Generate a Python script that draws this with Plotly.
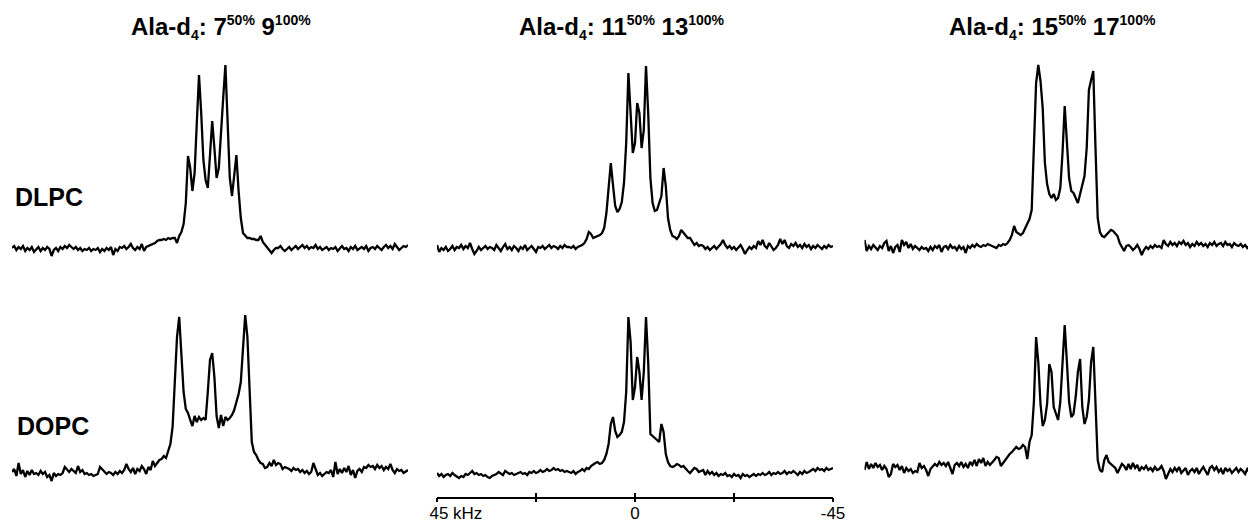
import numpy as np
import plotly.graph_objects as go

SS = "<span style='font-size:14px'>{}</span>"
panel_titles = [
    "Ala-d<sub>" + SS.format("4") + "</sub>: 7<sup>" + SS.format("50%") + "</sup> 9<sup>" + SS.format("100%") + "</sup>",
    "Ala-d<sub>" + SS.format("4") + "</sub>: 11<sup>" + SS.format("50%") + "</sup> 13<sup>" + SS.format("100%") + "</sup>",
    "Ala-d<sub>" + SS.format("4") + "</sub>: 15<sup>" + SS.format("50%") + "</sup> 17<sup>" + SS.format("100%") + "</sup>",
]
row_labels = ["DLPC", "DOPC"]

dlpc_7_9 = [
    0, 2, -2, 1, -1, 2, -3, 0, -2, 1,
    -4, -1, 1, -3, 0, -2, 1, -1, -8, -2,
    0, -3, 1, -1, 2, 0, 3, 1, -1, 1,
    -2, 0, -3, -1, -2, 0, -3, -1, -2, 0,
    -4, -1, -3, 0, -2, 1, -7, -1, -3, 1,
    0, 2, -1, 1, 4, 0, -2, 1, -1, 4,
    -3, 1, 2, 3, 4, 5, 7, 8, 8, 9,
    8, 10, 9, 10, 10, 5, 12, 16, 24, 45,
    92, 80, 57, 75, 125, 173, 135, 88, 68, 60,
    93, 127, 100, 70, 80, 110, 150, 183, 128, 70,
    52, 75, 93, 57, 30, 15, 12, 10, 10, 9,
    9, 8, 8, 12, 6, 3, 0, -3, -5, -2,
    0, 0, 2, -1, -3, -1, 1, -2, 0, 2,
    -1, 1, 3, 0, 2, -1, 1, 0, 3, -1,
    1, -2, 0, 1, -2, 0, -1, 1, -3, 0,
    2, -1, 0, -3, 1, -1, 2, -2, 0, 1,
    -1, 2, -3, 0, 1, -1, 2, 0, -2, 1,
    3, 0, 2, -1, 4, 1, -2, 0, 2, 1, 3,
]
dlpc_11_13 = [
    3, -4, 0, -2, 1, -3, -1, 2, -2, 1,
    0, 3, -1, 2, 0, 5, -1, -6, -3, 1,
    -2, 0, 2, -1, 1, 0, -2, 3, 0, -3,
    1, 4, -1, 1, -2, 2, 0, -3, 1, -1,
    3, -2, 0, 2, -1, -4, 1, 0, 2, -1,
    1, 3, 0, 2, 1, -1, 2, 0, 3, 1,
    1, 0, 2, -1, 1, 2, 3, 5, 9, 16,
    14, 10, 11, 12, 13, 15, 20, 35, 65, 85,
    63, 42, 36, 39, 46, 65, 105, 175, 135, 95,
    105, 145, 135, 100, 118, 182, 135, 70, 45, 37,
    38, 44, 52, 80, 62, 30, 18, 12, 11, 9,
    12, 18, 15, 13, 10, 10, 6, 3, 5, 2,
    3, 2, -1, 1, -2, 0, 2, -1, 1, 4,
    8, 3, 0, 2, -1, 1, -2, 0, 3, -1,
    -6, -2, 1, -1, 2, 0, 7, 3, 8, 2,
    0, 5, 1, -2, 0, 3, 9, 4, 8, 2,
    0, 4, 2, 5, 1, 3, 0, 4, 1, 3,
    -1, 2, 0, 3, 1, -1, 2, 0, 3, 1, 2,
]
dlpc_15_17 = [
    8, -3, 2, -1, 3, 1, -2, 2, 0, 5,
    7, -3, 2, -5, 1, 3, -4, 8, 3, 6,
    0, 4, -1, 2, 0, -2, 1, -1, 0, -3,
    1, -2, 2, 0, 3, -4, 1, 2, -1, 3,
    0, 1, -2, 2, -1, 1, -5, 2, 0, 3,
    1, 4, 2, 1, 3, 2, 4, 3, 2, 1,
    0, 3, 2, 4, 3, 5, 8, 13, 22, 16,
    14, 13, 15, 20, 24, 29, 38, 95, 165, 183,
    167, 140, 85, 64, 54, 50, 54, 48, 50, 60,
    95, 142, 108, 70, 57, 55, 50, 45, 54, 62,
    72, 100, 158, 168, 177, 100, 30, 16, 12, 11,
    13, 16, 18, 17, 14, 12, 5, 1, -3, 2,
    3, 1, -2, 0, 3, -1, -7, -2, 1, -1,
    2, 0, 3, 1, 2, 0, 8, 4, 2, 6,
    3, 5, 2, 6, 4, 7, 3, 5, 1, 4,
    2, 6, 3, 5, 2, 4, 1, 5, 3, 6,
    2, 4, 5, 2, 6, 3, 4, 1, 5, 3,
    2, 4, 1, 3, 0, 2, 3, 1, 2, 0, 1,
]
dopc_7_9 = [
    0, 3, -4, 9, -2, 2, -5, 1, -3, 2,
    -2, -1, -3, 1, -2, 0, -5, -3, -9, -1,
    -4, -2, -3, -1, 5, 2, 0, 3, 1, -1,
    6, 0, 2, -2, -1, -3, -2, -4, -3, -2,
    5, 3, 1, -2, 0, -1, -3, 0, -2, 1,
    -1, 2, 8, 3, 0, 4, -2, 3, 1, 6,
    3, -2, 5, 2, 11, 6, 9, 12, 13, 16,
    14, 22, 28, 45, 90, 135, 155, 118, 80, 63,
    59, 52, 46, 56, 50, 55, 52, 54, 52, 80,
    112, 119, 95, 56, 44, 57, 46, 55, 52, 54,
    57, 62, 70, 78, 90, 120, 157, 135, 80, 30,
    20, 17, 12, 9, 8, 4, 5, 9, 6, 12,
    7, 9, 8, 3, 5, 4, 3, 1, 4, 2,
    3, 0, 2, -1, 1, -2, 0, 9, 2, -3,
    -1, -4, -2, 0, -1, 2, -5, 10, -2, 3,
    -1, 4, 0, 6, -3, 2, -6, 1, 3, 0,
    5, 4, 7, 5, 6, 3, 7, 4, 6, 2,
    5, 3, 8, 2, -1, 3, 1, 2, -1, 1, 2,
]
dopc_11_13 = [
    -1, -4, -2, -5, -3, -2, -4, -1, -3, -5,
    -6, -4, -5, -2, -3, -1, 1, -2, -1, -3,
    -2, -4, -3, -5, -6, -4, -3, -2, 0, -2,
    -3, 1, -1, -2, -1, -3, -2, -1, 0, -2,
    -1, -3, 0, -1, 1, -1, 0, 2, 0, 1,
    3, 1, 2, 4, 2, 3, 1, 2, 0, 1,
    0, -1, 1, -2, 0, 1, 3, 1, 4, 3,
    6, 8, 9, 10, 8, 9, 12, 18, 28, 48,
    55, 41, 35, 37, 40, 50, 80, 155, 130, 72,
    85, 115, 100, 72, 100, 155, 110, 38, 36, 35,
    32, 30, 48, 40, 18, 10, 6, 5, 6, 8,
    7, 5, 6, 3, 1, -1, 2, 4, 3, 0,
    1, 2, -3, 1, -2, 0, -3, -1, -4, -2,
    -3, -1, -4, -3, -5, -2, -4, -3, -6, -2,
    -4, -3, -5, -3, -2, -4, -2, -3, -1, -3,
    -2, 0, -3, -1, -2, 0, -2, -1, 1, -2,
    0, -1, 1, -1, -3, 0, -2, 1, -1, 0,
    2, 3, 1, 4, 2, 3, 1, 4, 2, 3, 4,
]
dopc_15_17 = [
    2, 10, 3, 8, 4, 9, 5, 7, 2, 6,
    3, -5, -2, 8, 5, 7, 2, 6, -1, 4,
    1, 3, -1, 1, 0, 9, 4, 6, 2, -4,
    3, 5, 8, 6, 10, 7, 9, 6, 10, 4,
    -2, 7, 9, 6, 10, 5, 8, 4, 10, 7,
    12, 6, 13, 9, 14, 6, 10, 7, 9, 12,
    15, 14, 6, 9, 13, 15, 18, 20, 23, 25,
    23, 24, 27, 25, 13, 30, 37, 70, 135, 110,
    68, 46, 52, 68, 108, 100, 65, 58, 52, 70,
    110, 147, 110, 70, 55, 58, 75, 100, 113, 65,
    48, 55, 72, 110, 125, 60, 12, 2, 0, 12,
    17, 10, 8, 7, 4, -1, 3, 8, 6, 2,
    8, 3, 9, 4, 7, 1, 5, 3, 6, 2,
    4, 1, 5, 2, 3, 6, 1, -7, -2, 3,
    0, 4, 1, 5, -1, 2, 4, -3, 1, 3,
    0, 4, -2, 2, 5, 1, -3, 4, 6, 2,
    5, 0, 3, -2, 4, 1, 3, -1, 2, 4,
    0, 3, 1, -2, 3, 0, 2, 4, 1, 3, 0,
]

spectra = [[dlpc_7_9, dlpc_11_13, dlpc_15_17],
           [dopc_7_9, dopc_11_13, dopc_15_17]]

freq_start, freq_step = 45.0, 0.5           # kHz
scale_tickvals = [45, 22.5, 0, -22.5, -45]
scale_ticktext = ["\u00a0" * 8 + "45 kHz", "", "0", "", "-45"]

W, H = 1256, 521
OFF = 8   # the page's body margin shifts the figure by 8 px right and down
FONT = "Arial, Liberation Sans, sans-serif"

def fx(px):
    return (px - OFF) / W

def fy(py):
    return (H - (py - OFF)) / H

# panel geometry in screen pixels
col_px = [(12, 408), (437, 833), (864.5, 1264)]
px_per_khz = 4.4
row_px = [(50, 270, 248), (290, 497, 472)]   # top, bottom, zero-line

fig = go.Figure()
layout = dict(width=W, height=H, autosize=False,
              margin=dict(l=0, r=0, t=0, b=0, pad=0, autoexpand=False),
              paper_bgcolor="white", plot_bgcolor="white", showlegend=False)

for r in range(2):
    top, bot, zero = row_px[r]
    for c in range(3):
        n = r * 3 + c + 1
        sfx = "" if n == 1 else str(n)
        y = spectra[r][c]
        x = freq_start - freq_step * np.arange(len(y))
        fig.add_trace(go.Scatter(x=x, y=y, mode="lines",
                                 line=dict(color="black", width=2.3),
                                 xaxis="x" + sfx, yaxis="y" + sfx,
                                 hoverinfo="skip"))
        x0, x1 = col_px[c]
        d1 = min(fx(x1), 1.0)
        xr = [45, 45 - (d1 * W + OFF - x0) / px_per_khz]
        xa = dict(domain=[fx(x0), d1], range=xr, anchor="y" + sfx,
                  showgrid=False, zeroline=False, showticklabels=False,
                  ticks="", showline=False, automargin=False)
        ya = dict(domain=[fy(bot), fy(top)],
                  range=[zero - bot, zero - top], anchor="x" + sfx,
                  visible=False, automargin=False)
        if n == 5:
            xa.update(showline=True, linecolor="black", linewidth=2,
                      ticks="inside", ticklen=4, tickwidth=2, tickcolor="black",
                      tickmode="array", tickvals=scale_tickvals,
                      ticktext=scale_ticktext, showticklabels=True,
                      tickfont=dict(family=FONT, size=17, color="black"))
        layout["xaxis" + sfx] = xa
        layout["yaxis" + sfx] = ya

# outward half of the scale ticks
layout["xaxis7"] = dict(overlaying="x5", anchor="y5", range=layout["xaxis5"]["range"],
                        showgrid=False, zeroline=False, showline=False, automargin=False,
                        ticks="outside", ticklen=4, tickwidth=2, tickcolor="black",
                        tickmode="array", tickvals=scale_tickvals,
                        showticklabels=False)
fig.add_trace(go.Scatter(x=[None], y=[None], xaxis="x7", yaxis="y5",
                         mode="lines", hoverinfo="skip"))

title_cx = [221, 622, 1052]
annotations = []
for c in range(3):
    annotations.append(dict(text="<b>" + panel_titles[c] + "</b>", xref="paper", yref="paper",
                            x=fx(title_cx[c]), y=fy(27), xanchor="center", yanchor="middle",
                            showarrow=False, font=dict(family=FONT, size=24, color="black")))
label_pos = [(13, 197), (15, 425.5)]
for r in range(2):
    lx, ly = label_pos[r]
    annotations.append(dict(text="<b>" + row_labels[r] + "</b>", xref="paper", yref="paper",
                            x=fx(lx), y=fy(ly), xanchor="left", yanchor="middle",
                            showarrow=False, font=dict(family=FONT, size=25, color="black")))
layout["annotations"] = annotations

fig.update_layout(**layout)
fig.write_html("out.html")
